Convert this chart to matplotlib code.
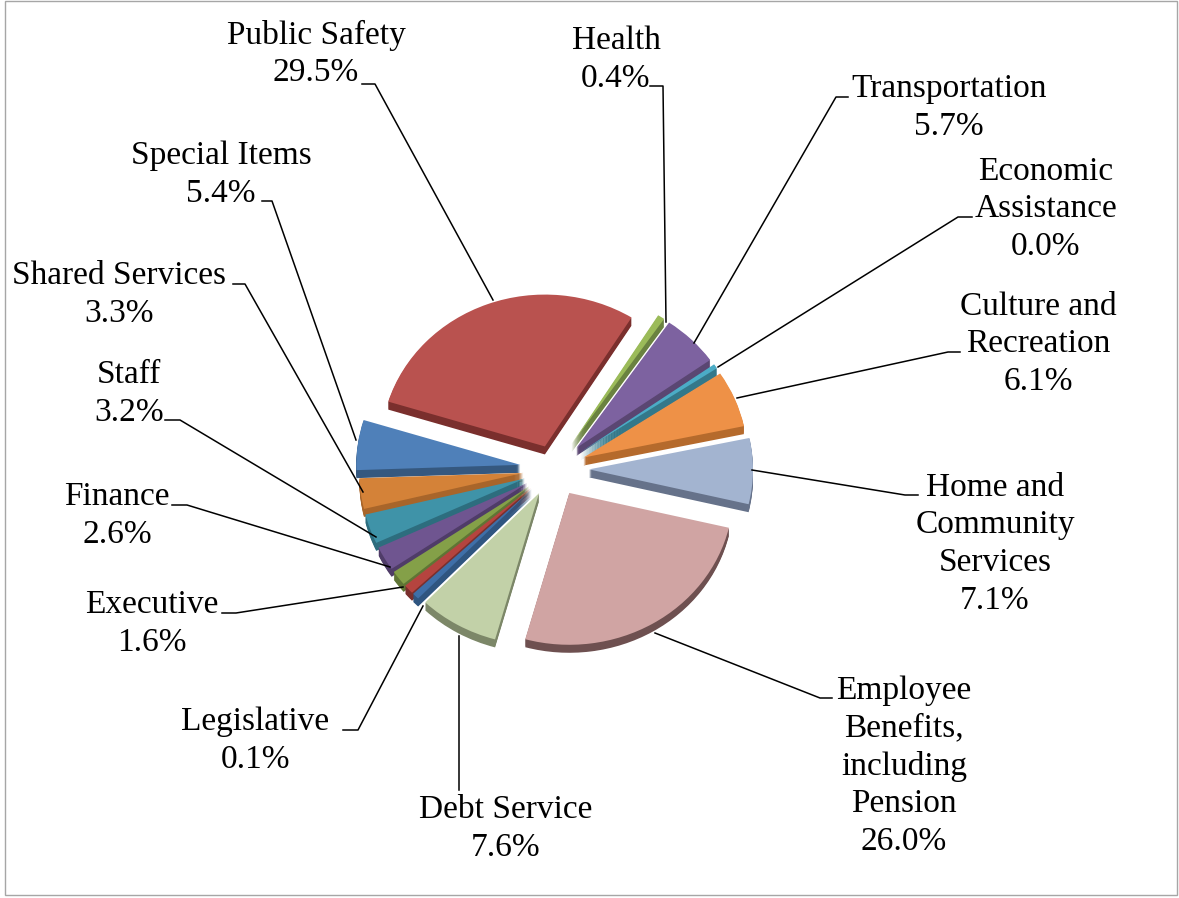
"""
Budget share pie chart, exploded, with a fake 3D rim.
"""

import matplotlib
matplotlib.use("Agg")
import matplotlib.pyplot as plt
from matplotlib.patches import Rectangle

# slices clockwise, starting at Special Items; the red one has no label in the chart
names = ["Special Items", "Public Safety", "Health", "Transportation",
         "Economic\nAssistance", "Culture and\nRecreation",
         "Home and\nCommunity\nServices",
         "Employee\nBenefits,\nincluding\nPension", "Debt Service",
         "Legislative", "", "Executive", "Finance", "Staff", "Shared Services"]
pct_labels = ["5.4%", "29.5%", "0.4%", "5.7%", "0.0%", "6.1%", "7.1%",
              "26.0%", "7.6%", "0.1%", "", "1.6%", "2.6%", "3.2%", "3.3%"]
# wedge sizes as drawn (the thin ones are drawn wider than their label says)
shares = [5.4, 29.5, 0.7, 5.7, 0.5, 6.1, 7.1, 26.0, 8.0, 0.7, 1.0, 1.6, 2.6, 3.2, 3.3]
# pull-out of each wedge, in pixels
explode = [34, 26, 32, 32, 32, 32, 35, 30, 30, 31, 31, 31, 31, 31, 31]
colors = ["#4f80b9", "#b9524f", "#9bbb59", "#7d62a0", "#4bacc6", "#ee9147",
          "#a3b4d0", "#d0a4a3", "#c2d1a8", "#3f6fa8", "#b5443f", "#84a048",
          "#6f5590", "#3f93a8", "#d48238"]
sides = ["#35587f", "#7a2f2d", "#6a8240", "#5a4672", "#33788a", "#b56a2c",
         "#66728a", "#6e5050", "#7c8768", "#2f5580", "#7a2f2d", "#5f7535",
         "#4f3c68", "#2d6d7e", "#a8652a"]

# label centres and leader lines, in picture pixels
label_xy = [(221, 175), (316, 54), (616, 60), (949, 108), (1046, 209),
            (1038, 344), (995, 544), (904, 766), (506, 829), (255, 741),
            None, (152, 624), (117, 516), (129, 394), (119, 295)]
leaders = [[(262, 201), (272, 201), (356, 440)],
           [(362, 84), (375, 84), (493, 300)],
           [(650, 86), (663, 86), (666, 322)],
           [(848, 97), (836, 97), (694, 343)],
           [(972, 217), (958, 217), (718, 367)],
           [(960, 352), (948, 352), (737, 398)],
           [(918, 495), (905, 495), (752, 470)],
           [(832, 698), (820, 698), (655, 633)],
           [(459, 790), (459, 636)],
           [(343, 730), (358, 730), (423, 606)],
           [(222, 613), (236, 613), (403, 587)],
           [(172, 505), (187, 505), (390, 567)],
           [(165, 420), (180, 420), (376, 537)],
           [(233, 284), (245, 284), (363, 492)]]

W, H = 1179, 898
SQUASH = 0.926  # vertical flattening of the pie
RADIUS = 164
CX, CY = 554, 469
DEPTH = 8


def to_y(ypx):
    return (H - ypx) / SQUASH


plt.rcParams["font.family"] = ["Liberation Serif", "DejaVu Serif"]
fig = plt.figure(figsize=(W / 100, H / 100), dpi=100)
ax = fig.add_axes([0, 0, 1, 1])

# rim first, stacked copies going down, then the top face
for d in range(DEPTH, 0, -1):
    ax.pie(shares, explode=explode, colors=sides, startangle=182, counterclock=False,
           radius=RADIUS, center=(CX, to_y(CY + d)), frame=True)
ax.pie(shares, explode=explode, colors=colors, startangle=182, counterclock=False,
       radius=RADIUS, center=(CX, to_y(CY)), frame=True)

ax.set_aspect("auto")
ax.set_xlim(0, W)
ax.set_ylim(0, H / SQUASH)
ax.axis("off")

ax.add_patch(Rectangle((5, to_y(895)), 1172, to_y(1) - to_y(895), fill=False,
                       edgecolor="#a6a6a6", linewidth=1.0, clip_on=False))

for line in leaders:
    ax.plot([p[0] for p in line], [to_y(p[1]) for p in line], color="black", lw=1.1)

for name, pct, xy in zip(names, pct_labels, label_xy):
    if xy is None:
        continue
    ax.text(xy[0], to_y(xy[1]), name + "\n" + pct, ha="center", va="center",
            fontsize=24, linespacing=1.3, color="black")

fig.savefig("out.png", dpi=100)
